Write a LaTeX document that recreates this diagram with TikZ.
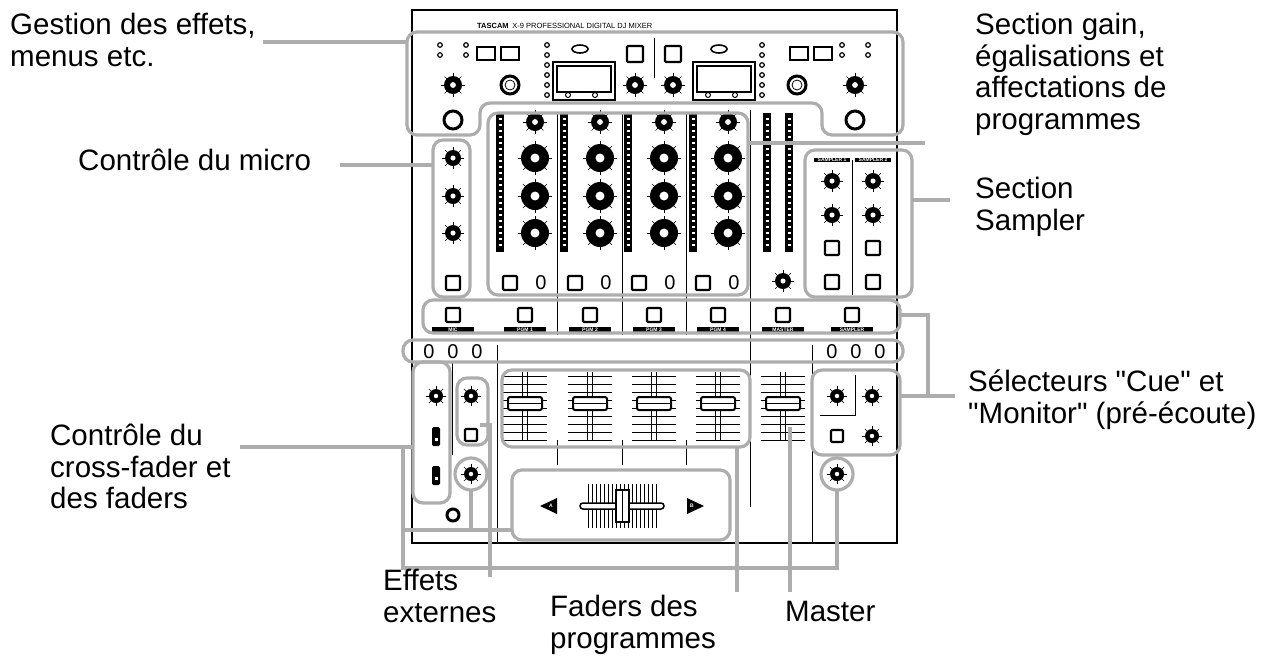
\documentclass[tikz,border=0pt]{standalone}
\usepackage{fontspec}
\setmainfont{Liberation Sans}
\begin{document}
\begin{tikzpicture}[x=1pt,y=-1pt,
  gbox/.style={draw=black!32,line width=3.2pt,rounded corners=10pt},
  gline/.style={draw=black!32,line width=3.2pt},
  lbl/.style={anchor=north west,align=left,font=\fontsize{29.5}{31.5}\selectfont,inner sep=0pt},
  tiny/.style={font=\fontsize{5}{5}\selectfont\bfseries,inner sep=0.5pt},
  blk/.style={line width=1.6pt}]
\newcommand\mknob[3]{%
  \foreach \a in {0,45,...,315}{\draw[line width=0.6pt] (#1,#2) -- ++(\a:#3+3);}
  \fill (#1,#2) circle (#3); \fill[white] (#1,#2) circle (#3*0.32);}
\newcommand\msq[3]{\draw[line width=2.4pt,rounded corners=1pt] (#1-#3,#2-#3) rectangle (#1+#3,#2+#3);}
\useasboundingbox (0,0) rectangle (1279,665);
% device outline
\draw[line width=1.5pt] (412,10) -- (897,10) -- (897,543) -- (412,543) -- cycle;
\draw[line width=1pt] (497,345) -- (497,543);
\draw[line width=1pt] (812,345) -- (812,543);
\draw[line width=0.8pt] (750,110) -- (750,507);
\foreach \x in {557,622,686}{\draw[line width=0.8pt] (\x,113) -- (\x,335); \draw[line width=0.8pt] (\x,440) -- (\x,465);}
\draw[line width=0.8pt] (852,160) -- (852,295);
\draw[line width=0.8pt] (654,38) -- (654,78);
\node[anchor=west,inner sep=0pt,font=\fontsize{7.5}{8}\selectfont] (title) at (477,26) {\textbf{TASCAM}\enspace X-9 PROFESSIONAL DIGITAL DJ MIXER};
% top section
\foreach \x in {440,466,842,868}{\draw[line width=1.2pt] (\x,45) circle (2.3); \draw[line width=1.2pt] (\x,55) circle (2.3);}
\foreach \x in {547,762}{\foreach \y in {45,55,...,95}{\draw[line width=1.2pt] (\x,\y) circle (2.3);}}
\foreach \x in {477,501,790,814}{\draw[line width=2pt] (\x,47) rectangle (\x+18,60);}
\foreach \x in {553,693}{\draw[line width=1.5pt] (\x,62) rectangle (\x+62,100); \draw[line width=1.2pt] (\x+4,66) rectangle (\x+58,92);
  \draw[line width=1pt] (\x+15,95) circle (2.5); \draw[line width=1pt] (\x+42,95) circle (2.5);}
\foreach \x in {580,719}{\draw[line width=1.6pt] (\x,49) ellipse (8 and 4);}
\msq{635}{54}{8}\msq{673}{54}{8}
\foreach \x in {453,635,673,855}{\mknob{\x}{85}{9}}
\foreach \x in {510,797}{\draw[line width=3pt] (\x,85) circle (9); \draw[line width=0.8pt] (\x,85) circle (5);}
\foreach \x in {453,855}{\draw[line width=3pt] (\x,120) circle (9);}
% channels
\foreach \x in {500,564,628,693,767,789}{\fill (\x-4,113) rectangle (\x+4,252); \foreach \y in {118,124,...,248}{\fill[white] (\x-1.5,\y) rectangle (\x+1.5,\y+2);}}
\foreach \x in {535,600,664,728}{
  \mknob{\x}{122}{9}\mknob{\x}{158}{14}\mknob{\x}{196}{14}\mknob{\x}{233}{14}
  \msq{\x-25}{283}{7}
  \node[font=\fontsize{20}{20}\selectfont,inner sep=0pt] at (\x+6,283) {0};}
\foreach \y in {158,196,233}{\mknob{453}{\y}{8}}
\msq{453}{283}{7}
\mknob{783}{281}{8}
% sampler
\foreach \x/\t in {832/SAMPLER 1,873/SAMPLER 2}{
  \node[tiny,fill=black,text=white,minimum width=36pt] at (\x,160) {\t};
  \mknob{\x}{181}{8}\mknob{\x}{215}{8}\msq{\x}{248}{7}\msq{\x}{282}{7}}
% cue row
\foreach \x/\t in {453/MIC,525/PGM 1,590/PGM 2,654/PGM 3,718/PGM 4,783/MASTER,852/SAMPLER}{
  \msq{\x}{315}{7}
  \node[tiny,fill=black,text=white,minimum width=42pt] at (\x,329.5) {\t};}
\foreach \x in {429,453,477,832,856,880}{\node[font=\fontsize{20}{20}\selectfont,inner sep=0pt] at (\x,352) {0};}
\draw[line width=1pt] (452,362) -- (452,455);
% lower left
\mknob{436}{396}{7}
\foreach \y in {436,475}{\fill[rounded corners=1.5pt] (432,427) ++(0,\y-436) rectangle ++(8,19); \fill[white] (434.5,\y+2) rectangle (437.5,\y+5);}
\draw[line width=3pt] (453,515) circle (6);
\mknob{471}{396}{7}\msq{471}{435}{6}\mknob{471}{474}{7}
% lower right
\mknob{837}{396}{7}\mknob{872}{396}{7}\msq{837}{436}{6}\mknob{872}{436}{7}\mknob{837}{474}{7}
\draw[line width=0.5pt] (820,415) -- (855,415) -- (855,375);
% faders
\foreach \x in {525,590,654,718,783}{
  \foreach \y in {376,384,...,440}{\draw[line width=0.6pt] (\x-22,\y) -- (\x+22,\y);}
  \draw[line width=1.5pt] (\x-2.5,372) -- (\x-2.5,441); \draw[line width=1.5pt] (\x+2.5,372) -- (\x+2.5,441);
  \fill[white] (\x-17,397) rectangle (\x+17,410);
  \draw[line width=2pt,rounded corners=2pt] (\x-17,397) rectangle (\x+17,410);
  \draw[line width=1pt] (\x-17,403.5) -- (\x+17,403.5);}
% crossfader
\foreach \x in {588,592,...,656}{\draw[line width=0.6pt] (\x,484) -- (\x,528);}
\draw[line width=1.5pt,rounded corners=3pt,fill=white] (580,503) rectangle (664,509);
\draw[line width=2pt,fill=white] (616,490) rectangle (629,522);
\draw[line width=1pt] (622.5,490) -- (622.5,522);
\fill (540,506) -- (557,498) -- (557,514) -- cycle;
\fill (704,506) -- (687,498) -- (687,514) -- cycle;
\node[tiny,text=white] at (551,506) {A};
\node[tiny,text=white] at (692,506) {B};
% gray callout boxes
\draw[gbox] (407,103) -- (407,32) -- (903,32) -- (903,135) -- (822,135) -- (822,103) -- (480,103) -- (480,135) -- (407,135) -- cycle;
\draw[gbox] (488,113) rectangle (748,295);
\draw[gbox] (433,140) rectangle (470,297);
\draw[gbox] (805,150) rectangle (912,297);
\draw[gbox] (423,300) rectangle (900,333);
\draw[gbox] (403,340) rectangle (903,362);
\draw[gbox] (413,362) rectangle (450,503);
\draw[gbox] (457,378) rectangle (488,445);
\draw[gline] (471,474) circle (16);
\draw[gbox] (502,370) rectangle (750,447);
\draw[gbox] (512,470) rectangle (730,540);
\draw[gbox] (812,370) rectangle (900,455);
\draw[gline] (837,474) circle (16);
% callout lines
\draw[gline] (263,42) -- (407,42);
\draw[gline] (340,165) -- (433,165);
\draw[gline] (748,143) -- (925,143);
\draw[gline] (912,200) -- (950,200);
\draw[gline] (900,315) -- (928,315) -- (928,396);
\draw[gline] (900,396) -- (955,396);
\draw[gline] (240,447) -- (413,447);
\draw[gline] (403,447) -- (403,568) -- (837,568) -- (837,490);
\draw[gline] (403,530) -- (512,530);
\draw[gline] (471,530) -- (471,490);
\draw[gline] (480,425) -- (490,425) -- (490,577);
\draw[gline] (737,447) -- (737,592);
\draw[gline] (790,427) -- (790,592);
% labels
\node[lbl] (l1) at (10,13) {Gestion des effets,\\menus etc.};
\node[lbl] (l2) at (78,149) {Contrôle du micro};
\node[lbl] (l3) at (975,13) {Section gain,\\égalisations et\\affectations de\\programmes};
\node[lbl] (l4) at (975,177) {Section\\Sampler};
\node[lbl] (l5) at (968,370) {Sélecteurs \textquotedbl Cue\textquotedbl\ et\\\textquotedbl Monitor\textquotedbl\ (pré-écoute)};
\node[lbl] (l6) at (50,424) {Contrôle du\\cross-fader et\\des faders};
\node[lbl] (l7) at (383,569) {Effets\\externes};
\node[lbl] (l8) at (550,595) {Faders des\\programmes};
\node[lbl] (l9) at (785,601) {Master};
\end{tikzpicture}
\end{document}
